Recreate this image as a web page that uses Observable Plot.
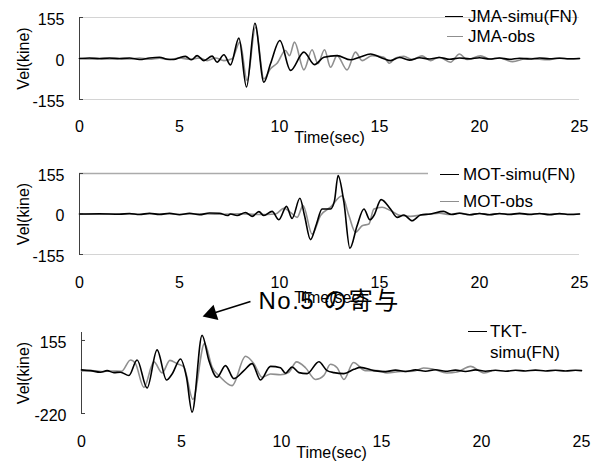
<!DOCTYPE html>
<html><head><meta charset="utf-8">
<script src="https://cdn.jsdelivr.net/npm/d3@7"></script>
<script src="https://cdn.jsdelivr.net/npm/@observablehq/plot@0.6"></script>
<style>
body{margin:0;background:#fff;}
#wrap{position:relative;width:600px;height:461px;overflow:hidden;background:#fff;font-family:"Liberation Sans",Arial,"Noto Sans CJK JP",sans-serif;}
.leg{position:absolute;font-size:17px;line-height:20px;height:20px;white-space:nowrap;color:#000;}
.sw{position:absolute;height:0;}
</style></head><body><div id="wrap"></div>
<script>
// ---------- data ----------
const xTicks = [0, 5, 10, 15, 20, 25];
const yTicksJMA = [155, 0, -155];
const yTicksMOT = [155, 0, -155];
const yTicksTKT = [155, -220];
const xLabel = "Time(sec)";
const yLabel = "Vel(kine)";

const jmaSimu = [[0,0],[0.5,2],[1,-1],[1.5,2],[2,-1],[2.5,2],[3,-4],[3.5,2],[4,5],[4.4,-3],[4.72,-4],[5,3],[5.3,8],[5.6,-5],[5.88,11],[6.22,-8],[6.63,9],[6.88,-14],[7.22,14],[7.55,-24],[7.97,77],[8.35,-108],[8.77,133],[9.22,-90],[9.55,-20],[10.02,68],[10.55,-45],[11.22,24],[11.75,-23],[12.22,5],[12.88,11],[13.55,-5],[14.0,5],[14.55,17],[15.22,-1],[15.55,-8],[16.0,4],[16.5,-6],[17.0,3],[17.5,-2],[18.0,4],[18.5,-3],[19.0,2],[19.5,-1],[20,3],[20.5,-2],[21,2],[21.5,-3],[22,1],[22.5,-2],[23,2],[23.5,-1],[24,1],[24.5,-1],[25,0]];
const jmaObs = [[0,0],[0.5,-2],[1,1],[1.5,-2],[2,1],[2.5,-2],[3,2],[3.5,-3],[4,1],[4.5,-4],[5,2],[5.5,-3],[6,2],[6.38,-8],[6.8,2],[7.22,-8],[7.63,-1],[8.02,62],[8.38,-83],[8.8,118],[9.22,-77],[9.55,-39],[9.88,-18],[10.3,30],[10.5,11],[10.75,62],[11.22,-43],[11.63,33],[11.92,-20],[12.25,33],[12.55,-33],[12.88,11],[13.38,-43],[13.8,24],[14.13,-8],[14.63,11],[15.22,5],[15.5,-18],[15.8,2],[16.22,8],[16.63,-4],[17.13,10],[17.55,-8],[17.97,5],[18.55,-14],[19.0,17],[19.38,-4],[20.05,10],[20.55,-2],[21.0,2],[21.65,-12],[22.38,1],[23.0,-3],[23.38,-5],[24,2],[24.5,-2],[25,0]];

const motSimu = [[0,0],[1,1],[2,-1],[2.5,2],[3,-2],[3.5,3],[4,-2],[4.5,3],[5,-3],[5.5,3],[6,-3],[6.5,4],[7,3],[7.4,-6],[7.55,0],[7.88,-6],[8.3,6],[8.63,-9],[8.97,9],[9.22,-6],[9.63,10],[9.97,-22],[10.35,29],[10.63,-17],[11.02,60],[11.25,-6],[11.55,-98],[11.85,-38],[12.13,19],[12.55,19],[12.75,51],[12.93,147],[13.22,45],[13.52,-131],[13.88,-45],[14.22,19],[14.52,-22],[14.72,-6],[15.08,55],[15.55,19],[15.88,-13],[16.22,-4],[16.63,-26],[17.05,-4],[17.55,0],[18.2,10],[18.6,-2],[19,3],[19.5,-3],[20,2],[20.5,-3],[21,2],[21.5,-2],[22,3],[22.5,-2],[23,2],[23.5,-3],[24,2],[24.5,-2],[25,0]];
const motObs = [[0,0],[1,-1],[2,1],[3,-1],[4,1],[5,-1],[6,1],[7,-1],[8,1],[9,-2],[9.8,0],[10.22,22],[10.55,6],[10.88,-13],[11.18,32],[11.63,-77],[12.05,-6],[12.55,26],[13.13,70],[13.47,-6],[13.8,-70],[14.13,-45],[14.47,-38],[14.72,19],[15.13,26],[15.55,13],[16.05,-6],[16.55,-9],[17.05,-4],[17.55,0],[18,3],[18.5,-2],[19,4],[19.5,-3],[20,2],[20.5,-2],[21,1],[22,-1],[23,1],[24,-1],[25,0]];

const tktSimu = [[0,4],[0.45,0],[0.95,-8],[1.28,0],[1.62,-10],[1.95,-8],[2.37,-25],[2.78,55],[3.28,-89],[3.78,107],[4.25,-48],[4.53,-17],[4.95,60],[5.25,-34],[5.53,-213],[6.03,181],[6.37,52],[6.78,-34],[7.2,26],[7.62,-41],[8.12,0],[8.53,36],[8.95,-48],[9.45,22],[9.95,15],[10.2,-13],[10.53,19],[10.87,-10],[11.28,-15],[11.87,46],[12.28,0],[12.62,-10],[13.12,-15],[13.62,7],[13.95,17],[14.62,0],[15.2,-5],[15.7,3],[16.2,-4],[16.7,4],[17.2,-3],[17.7,5],[18.2,-3],[18.7,3],[19.2,-4],[19.7,4],[20.2,-3],[20.7,2],[21.2,-3],[21.7,2],[22.2,-2],[22.7,3],[23.2,-2],[23.7,2],[24.2,-2],[24.7,2],[25,0]];
const tktObs = [[0,-2],[0.5,0],[1,-4],[1.5,-2],[2,-3],[2.45,55],[2.7,36],[3.12,-86],[3.62,45],[4.03,-12],[4.42,53],[4.78,36],[5.12,19],[5.57,-147],[6.15,139],[6.53,19],[6.95,-34],[7.53,-77],[8.2,74],[8.62,36],[9.03,-34],[9.45,-17],[9.95,-21],[10.37,-8],[10.75,45],[11.2,15],[11.7,-45],[12.12,-24],[12.45,33],[12.78,15],[13.12,-45],[13.6,42],[14.2,0],[14.78,0],[15.28,-12],[15.95,-4],[16.6,-3],[17.1,14],[17.6,7],[18.27,-12],[18.78,-7],[19.45,22],[20.12,-12],[20.5,0]];

const legendJMA = ["JMA-simu(FN)", "JMA-obs"];
const legendMOT = ["MOT-simu(FN)", "MOT-obs"];
const legendTKT = ["TKT-", "simu(FN)"];

// annotation (in TKT panel data coordinates: [time, kine])
const noteText = ["No.5 の寄与"];
const noteTextAt = [8.85, 355];
const noteTail = [8.45, 355];
const noteHead = [6.5, 292];
const motTopRuleEnd = 17.45;

// ---------- drawing ----------
const BLACK = "#000";
const GRAY = "#8f8f8f";
const wrap = document.getElementById("wrap");

function panel(o) {
  const innerW = 600 - o.ml - o.mr;
  const marks = [
    ...o.grid,
    Plot.ruleX([0], {stroke: "#404040", strokeWidth: 1}),
    Plot.tickY(o.yt, {y: d => d, insetRight: innerW - 4, stroke: "#404040"}),
    Plot.line(o.obs, {x: d => d[0], y: d => d[1], stroke: GRAY, strokeWidth: 1.6, curve: "monotone-x"}),
    Plot.line(o.simu, {x: d => d[0], y: d => d[1], stroke: BLACK, strokeWidth: 1.6, curve: "monotone-x"}),
    Plot.axisY({ticks: o.yt, tickSize: 0, tickPadding: 15, fontSize: 16, label: null, tickFormat: d => String(d), dy: 2}),
    Plot.axisX({ticks: xTicks, tickSize: 0, tickPadding: o.tickPad, fontSize: 16, label: null}),
    Plot.text([xLabel], {text: d => d, frameAnchor: "bottom", textAnchor: "middle", lineAnchor: "middle", dy: o.labelDy, fontSize: 16}),
    Plot.text([yLabel], {text: d => d, frameAnchor: "left", textAnchor: "middle", lineAnchor: "middle", dx: o.ylabelDx, rotate: -90, fontSize: 16}),
    ...(o.extra || [])
  ];
  const svg = Plot.plot({
    width: 600, height: o.height,
    marginTop: o.mt, marginBottom: o.mb, marginLeft: o.ml, marginRight: o.mr,
    x: {domain: [0, 25]}, y: {domain: o.ydom},
    style: {fontFamily: '"Liberation Sans", Arial, "Noto Sans CJK JP", sans-serif', fontSize: "16px", color: "#000", background: "transparent", overflow: "visible"},
    marks
  });
  svg.style.position = "absolute";
  svg.style.top = o.top + "px";
  svg.style.left = "0px";
  svg.querySelectorAll("text").forEach(t => {
    if (t.textContent.includes("寄与")) t.setAttribute("letter-spacing", "1.5px");
  });
  wrap.appendChild(svg);
}

function legend(items) {
  for (const it of items) {
    if (it.sw) {
      const s = document.createElement("div");
      s.className = "sw";
      s.style.left = it.sw[0] + "px";
      s.style.width = (it.sw[1] - it.sw[0]) + "px";
      s.style.top = (it.y - 1) + "px";
      s.style.borderTop = "1.6px solid " + it.color;
      wrap.appendChild(s);
    }
    const t = document.createElement("div");
    t.className = "leg";
    t.style.left = it.x + "px";
    t.style.top = (it.y - 10) + "px";
    t.textContent = it.text;
    wrap.appendChild(t);
  }
}

panel({top: 0, height: 145, mt: 17, mb: 46, ml: 79, mr: 21, ydom: [-155, 155], yt: yTicksJMA,
  simu: jmaSimu, obs: jmaObs, tickPad: 21, labelDy: 38, ylabelDx: -56,
  grid: [Plot.ruleY([155, -155], {stroke: "#d4d4d4"})]});

panel({top: 150, height: 155, mt: 23, mb: 51, ml: 79, mr: 21, ydom: [-155, 155], yt: yTicksMOT,
  simu: motSimu, obs: motObs, tickPad: 22, labelDy: 43, ylabelDx: -56,
  grid: [Plot.ruleY([-155], {stroke: "#d4d4d4"}), Plot.ruleY([155], {x1: 0, x2: motTopRuleEnd, stroke: "#ababab", strokeWidth: 1.5})]});

panel({top: 285, height: 176, mt: 47, mb: 48, ml: 81, mr: 19, ydom: [-220, 196], yt: yTicksTKT,
  simu: tktSimu, obs: tktObs, tickPad: 22, labelDy: 39, ylabelDx: -58,
  grid: [],
  extra: [
    Plot.link([0], {x1: () => noteTail[0], y1: () => noteTail[1], x2: () => noteHead[0], y2: () => noteHead[1], stroke: BLACK, strokeWidth: 1.6}),
    Plot.dot([noteHead], {x: d => d[0], y: d => d[1], symbol: "triangle", r: 6, fill: BLACK, stroke: null, rotate: 252.6}),
    Plot.text(noteText, {text: d => d, x: () => noteTextAt[0], y: () => noteTextAt[1], textAnchor: "start", fontSize: 24})
  ]});

legend([
  {sw: [445, 463], color: BLACK, x: 468, y: 17, text: legendJMA[0]},
  {sw: [447, 463], color: GRAY, x: 468, y: 37, text: legendJMA[1]},
  {sw: [440, 459], color: BLACK, x: 463, y: 175, text: legendMOT[0]},
  {sw: [440, 459], color: GRAY, x: 463, y: 202, text: legendMOT[1]},
  {sw: [468, 487], color: BLACK, x: 490, y: 332, text: legendTKT[0]},
  {x: 490, y: 353, text: legendTKT[1]}
]);
</script></body></html>
